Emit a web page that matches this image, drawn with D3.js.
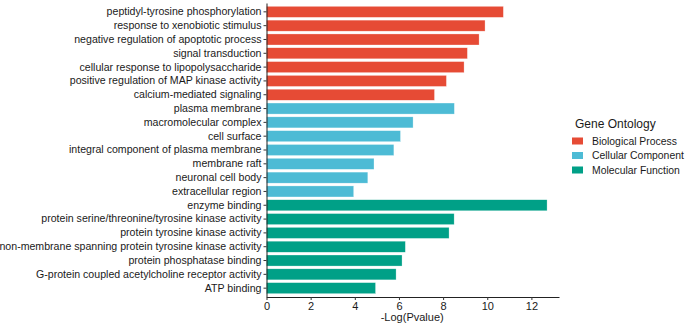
<!DOCTYPE html>
<html lang="en">
    <head>
        <meta charset="utf-8">
        <title>GO enrichment bar chart</title>
        <script type="text/javascript" src="https://d3js.org/d3.v7.min.js"></script>
        <style type="text/css">
            body { margin: 0; background: white; }
            text { font-family: "Liberation Sans", Arial, sans-serif; }
        </style>
    </head>
    <body>
        <script type="text/javascript">

        // Datos
        var terms = [
            "peptidyl-tyrosine phosphorylation",
            "response to xenobiotic stimulus",
            "negative regulation of apoptotic process",
            "signal transduction",
            "cellular response to lipopolysaccharide",
            "positive regulation of MAP kinase activity",
            "calcium-mediated signaling",
            "plasma membrane",
            "macromolecular complex",
            "cell surface",
            "integral component of plasma membrane",
            "membrane raft",
            "neuronal cell body",
            "extracellular region",
            "enzyme binding",
            "protein serine/threonine/tyrosine kinase activity",
            "protein tyrosine kinase activity",
            "non-membrane spanning protein tyrosine kinase activity",
            "protein phosphatase binding",
            "G-protein coupled acetylcholine receptor activity",
            "ATP binding"
        ];
        var logP = [10.73, 9.90, 9.63, 9.10, 8.95, 8.15, 7.61,
                    8.51, 6.64, 6.07, 5.77, 4.87, 4.59, 3.95,
                    12.71, 8.50, 8.27, 6.29, 6.14, 5.87, 4.94];
        var ontology = ["BP", "BP", "BP", "BP", "BP", "BP", "BP",
                        "CC", "CC", "CC", "CC", "CC", "CC", "CC",
                        "MF", "MF", "MF", "MF", "MF", "MF", "MF"];
        var groups = ["BP", "CC", "MF"];
        var groupNames = ["Biological Process", "Cellular Component", "Molecular Function"];
        var xTicks = [0, 2, 4, 6, 8, 10, 12];

        var data = terms.map(function(t, i) {
            return { term: t, value: logP[i], group: ontology[i] };
        });

        var w = 685;
        var h = 327;
        var left = 266.5;

        var svg = d3.select("body")
                    .append("svg")
                    .attr("width", w)
                    .attr("height", h);

        // Escalas
        var x = d3.scaleLinear()
                  .domain([0, 13.25])
                  .range([left, 559]);

        var y = d3.scaleBand()
                  .domain(terms)
                  .range([3, 297])
                  .paddingInner(0.2)
                  .paddingOuter(0.24);

        var color = d3.scaleOrdinal()
                      .domain(groups)
                      .range(["#E64B35", "#4DBBD5", "#00A087"]);

        // Barras
        svg.selectAll("rect.bar")
           .data(data)
           .enter()
           .append("rect")
           .attr("class", "bar")
           .attr("x", x(0))
           .attr("y", function(d) { return y(d.term); })
           .attr("width", function(d) { return x(d.value) - x(0); })
           .attr("height", y.bandwidth())
           .attr("fill", function(d) { return color(d.group); })
           .attr("stroke", "white")
           .attr("stroke-opacity", 0.6)
           .attr("stroke-width", 0.5);

        // Ejes
        var yAxis = svg.append("g")
                       .attr("transform", "translate(" + left + ",0)")
                       .call(d3.axisLeft(y).tickSize(3).tickPadding(2).tickSizeOuter(0));

        var xAxis = svg.append("g")
                       .attr("transform", "translate(0," + 297 + ")")
                       .call(d3.axisBottom(x).tickValues(xTicks).tickSize(3).tickPadding(2).tickSizeOuter(0));

        [yAxis, xAxis].forEach(function(a) {
            a.select(".domain").attr("stroke", "#222");
            a.selectAll(".tick line").attr("stroke", "#333");
            a.selectAll("text")
             .attr("fill", "#1a1a1a")
             .style("font-size", "10.6px")
             .style("font-family", "'Liberation Sans', Arial, sans-serif");
        });
        xAxis.selectAll("text").style("font-size", "11px");

        svg.append("text")
           .attr("x", x(6.6))
           .attr("y", 321)
           .attr("text-anchor", "middle")
           .style("font-size", "11px")
           .attr("fill", "#1a1a1a")
           .text("-Log(Pvalue)");

        // Leyenda
        var legend = svg.append("g")
                        .attr("transform", "translate(572,0)");

        legend.append("text")
              .attr("x", 3)
              .attr("y", 128)
              .style("font-size", "12px")
              .attr("fill", "#1a1a1a")
              .text("Gene Ontology");

        var items = legend.selectAll("g.item")
                          .data(groups)
                          .enter()
                          .append("g")
                          .attr("class", "item")
                          .attr("transform", function(d, i) {
                              return "translate(0," + (141 + i * 14.5) + ")";
                          });

        items.append("rect")
             .attr("x", 0)
             .attr("y", -3.5)
             .attr("width", 11)
             .attr("height", 7)
             .attr("fill", function(d) { return color(d); });

        items.append("text")
             .attr("x", 20)
             .attr("dy", "0.35em")
             .style("font-size", "10.4px")
             .attr("fill", "#1a1a1a")
             .text(function(d, i) { return groupNames[i]; });

        </script>
    </body>
</html>
